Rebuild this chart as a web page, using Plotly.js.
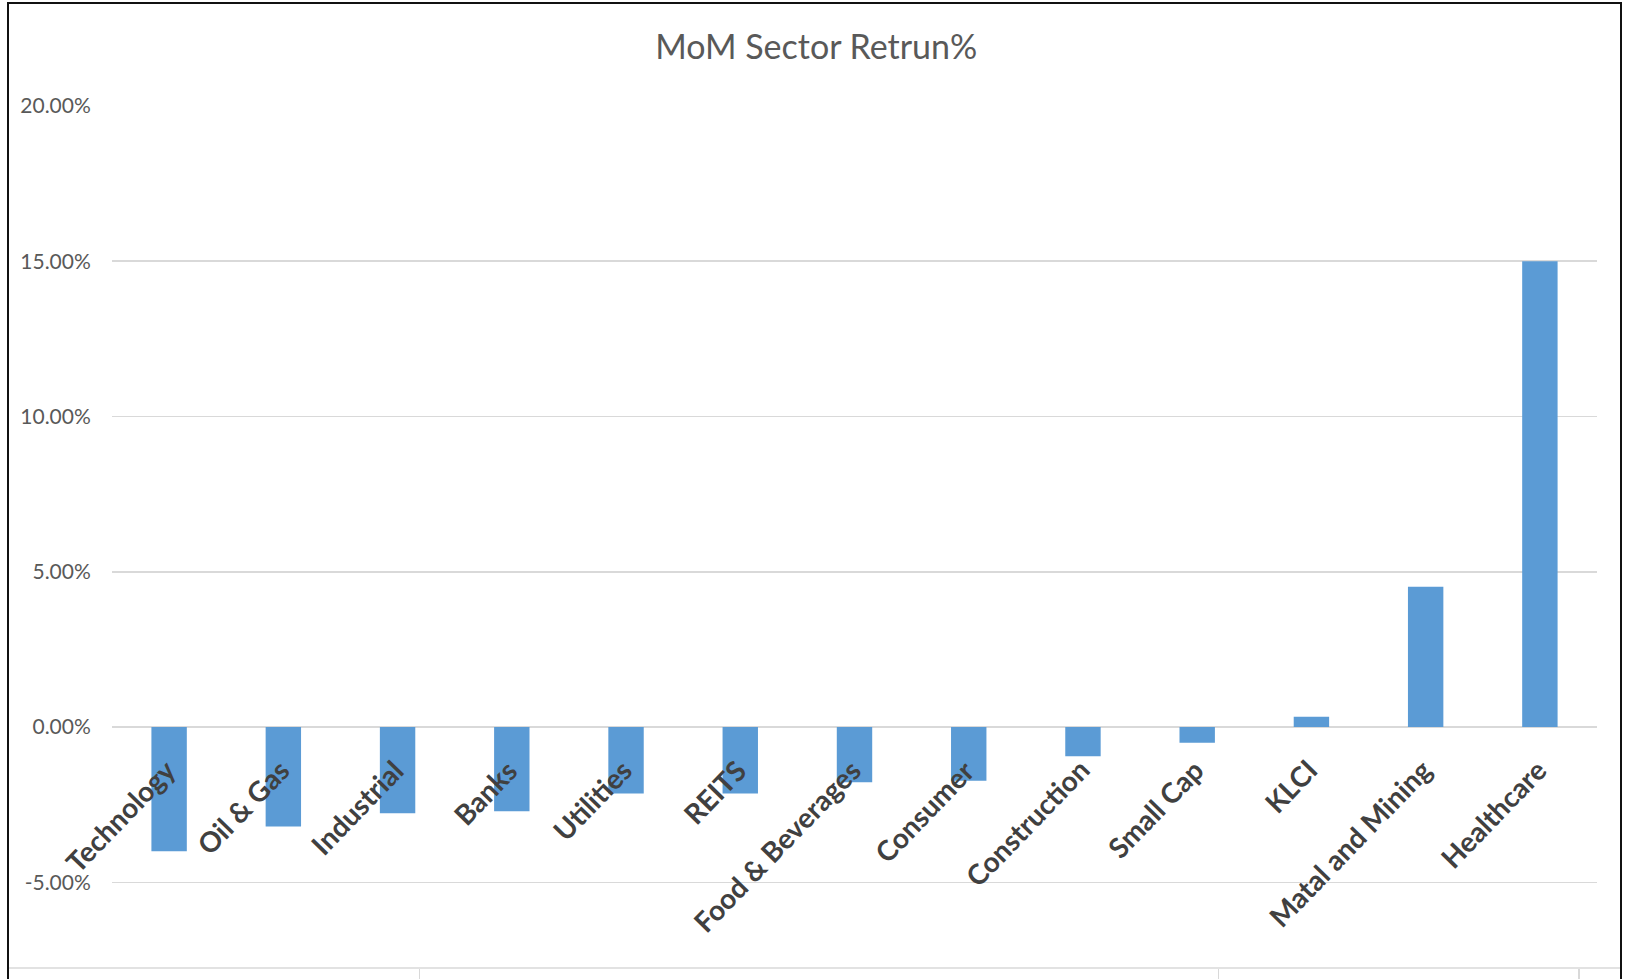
<!DOCTYPE html>
<html>
<head>
<meta charset="utf-8">
<script src="https://cdn.plot.ly/plotly-3.0.1.min.js"></script>
<style>
  html, body { margin: 0; padding: 0; background: #fff; }
  #wrap { position: relative; width: 1626px; height: 979px; overflow: hidden; }
  #chart { position: absolute; left: 0; top: 0; width: 1626px; height: 979px; }
  #frame { position: absolute; left: 7px; top: 2px; width: 1611px; height: 1000px;
           border: 2px solid #111; pointer-events: none; }
</style>
</head>
<body>
<div id="wrap">
  <div id="chart"></div>
  <div id="frame"></div>
</div>
<script>
// ---- data ----
const categories = ["Technology", "Oil & Gas", "Industrial", "Banks", "Utilities", "REITS",
  "Food & Beverages", "Consumer", "Construction", "Small Cap", "KLCI", "Matal and Mining", "Healthcare"];
const returnsPct = [-4.0, -3.2, -2.78, -2.71, -2.14, -2.14, -1.78, -1.73, -0.94, -0.51, 0.33, 4.52, 15.0];
const yTickVals = [-5, 0, 5, 10, 15, 20];
const yTickText = ["-5.00%", "0.00%", "5.00%", "10.00%", "15.00%", "20.00%"];
const bottomTicks = [0.207, 0.745, 0.988];

const FONT = "Lato, 'Open Sans', sans-serif";
const GRID = "#d9d9d9";

const bars = {
  type: "bar",
  x: categories,
  y: returnsPct,
  marker: { color: "#5b9bd5" },
  width: 0.31,
  hoverinfo: "x+y",
  showlegend: false
};
const dummy = {
  type: "scatter", mode: "lines", x: [0, 1], y: [null, null],
  xaxis: "x2", yaxis: "y", hoverinfo: "skip", showlegend: false
};

const labelAnnotations = categories.map(c => ({
  x: c, y: 0, xref: "x", yref: "y",
  text: c, showarrow: false, textangle: -46,
  xanchor: "right", yanchor: "top",
  xshift: 15, yshift: -23,
  font: { family: FONT, size: 28, color: "#404040", weight: "bold" }
}));

const layout = {
  width: 1626, height: 979,
  margin: { l: 112, r: 29, t: 105, b: 11 },
  paper_bgcolor: "#fff", plot_bgcolor: "#fff",
  title: {
    text: "MoM Sector Retrun%",
    x: 0.502, xref: "container", xanchor: "center",
    y: 0.952, yref: "container", yanchor: "middle",
    font: { family: FONT, size: 34, color: "#595959" }
  },
  xaxis: {
    type: "category", range: [-0.5, categories.length - 0.5], autorange: false,
    showticklabels: false, ticks: "", showgrid: false,
    zeroline: false, showline: false, fixedrange: true
  },
  xaxis2: {
    overlaying: "x", side: "bottom", anchor: "y", range: [0, 1], autorange: false,
    showgrid: false, zeroline: false, showline: false, showticklabels: false,
    ticks: "outside", ticklen: 12, tickwidth: 1.5, tickcolor: GRID,
    tickvals: bottomTicks
  },
  yaxis: {
    range: [-7.76, 20.03], autorange: false,
    tickvals: yTickVals, ticktext: yTickText,
    showgrid: true, gridcolor: GRID, gridwidth: 1.5,
    zeroline: true, zerolinecolor: GRID, zerolinewidth: 1.5,
    showline: false,
    ticks: "outside", ticklen: 16, tickcolor: "rgba(0,0,0,0)",
    tickfont: { family: FONT, size: 21, color: "#595959" },
    fixedrange: true
  },
  shapes: [{
    type: "line", xref: "paper", yref: "paper",
    x0: -0.07, x1: 1.016, y0: 0, y1: 0,
    line: { color: GRID, width: 1.5 }
  }],
  annotations: labelAnnotations,
  bargap: 0.69
};

Plotly.newPlot("chart", [bars, dummy], layout, { displayModeBar: false, staticPlot: true });
</script>
</body>
</html>
